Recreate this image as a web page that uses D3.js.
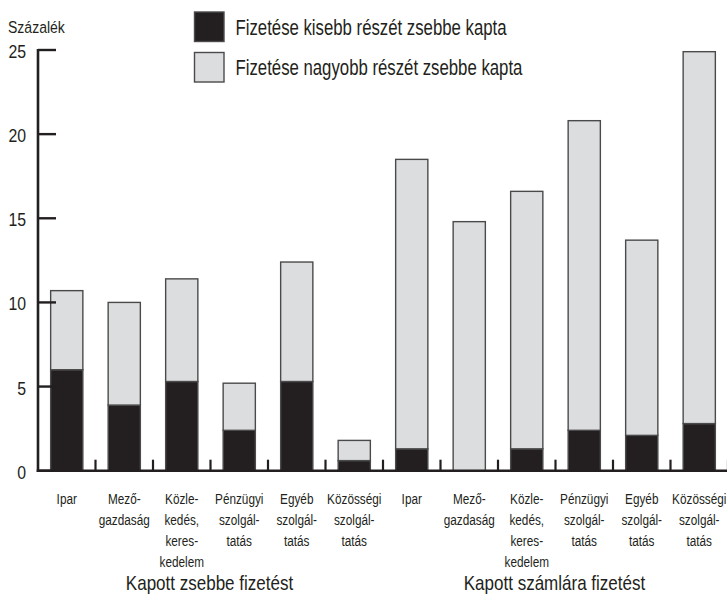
<!DOCTYPE html>
<html>
<head>
<meta charset="utf-8">
<script src="https://cdn.jsdelivr.net/npm/d3@7"></script>
<style>
  html, body { margin: 0; padding: 0; background: #fff; }
  svg { display: block; }
  text { font-family: 'Liberation Sans', Arial, sans-serif; fill: #231f20; }
</style>
</head>
<body>
<svg id="chart" width="727" height="594"></svg>
<script>
// ---- data ----
const categories = [
  ["Ipar"],
  ["Mező-", "gazdaság"],
  ["Közle-", "kedés,", "keres-", "kedelem"],
  ["Pénzügyi", "szolgál-", "tatás"],
  ["Egyéb", "szolgál-", "tatás"],
  ["Közösségi", "szolgál-", "tatás"],
  ["Ipar"],
  ["Mező-", "gazdaság"],
  ["Közle-", "kedés,", "keres-", "kedelem"],
  ["Pénzügyi", "szolgál-", "tatás"],
  ["Egyéb", "szolgál-", "tatás"],
  ["Közösségi", "szolgál-", "tatás"]
];
const groups = ["Kapott zsebbe fizetést", "Kapott számlára fizetést"];
const seriesNames = ["Fizetése kisebb részét zsebbe kapta", "Fizetése nagyobb részét zsebbe kapta"];
const kisebb  = [6.0, 3.9, 5.3, 2.4, 5.3, 0.6, 1.3, 0.0, 1.3, 2.4, 2.1, 2.8];
const nagyobb = [4.7, 6.1, 6.1, 2.8, 7.1, 1.2, 17.2, 14.8, 15.3, 18.4, 11.6, 22.1];
const yTicks = [0, 5, 10, 15, 20, 25];
const yTitle = "Százalék";

// ---- layout ----
const svg = d3.select("#chart");
const colors = ["#231f20", "#dcdddf"];
const strokeCol = "#4a4a4a";
const x0 = 38, x1 = 728, yBase = 470.7, yTop = 50;
const SX = 0.76; // horizontal condensing of the typeface

const idx = d3.range(categories.length);
const x = d3.scaleBand().domain(idx).range([x0, x1]).paddingInner(0.44).paddingOuter(0.22);
const y = d3.scaleLinear().domain([0, 25]).range([yBase, yTop]);

const table = idx.map(i => ({ i, k: kisebb[i], n: nagyobb[i] }));
const stack = d3.stack().keys(["k", "n"])(table);

// bars
svg.append("g").selectAll("g").data(stack).join("g")
  .attr("fill", (d, j) => colors[j])
  .selectAll("rect").data(d => d.filter(s => s[1] - s[0] > 0)).join("rect")
  .attr("x", d => x(d.data.i))
  .attr("width", x.bandwidth())
  .attr("y", d => y(d[1]))
  .attr("height", d => y(d[0]) - y(d[1]))
  .attr("stroke", strokeCol)
  .attr("stroke-width", 1.4);

// y axis
const axisCol = "#231f20";
svg.append("line").attr("x1", x0).attr("x2", x0).attr("y1", y(25) - 1).attr("y2", yBase + 1.2)
  .attr("stroke", axisCol).attr("stroke-width", 2.6);
const yt = svg.append("g");
yt.selectAll("line").data(yTicks).join("line")
  .attr("x1", x0).attr("x2", x0 + 18)
  .attr("y1", d => y(d)).attr("y2", d => y(d))
  .attr("stroke", axisCol).attr("stroke-width", 2.4);
yt.selectAll("text").data(yTicks).join("text")
  .attr("transform", d => `translate(26,${y(d) + 8}) scale(0.88,1)`)
  .attr("text-anchor", "end").attr("font-size", 18)
  .text(d => d);
svg.append("text").attr("transform", "translate(8,33) scale(0.85,1)")
  .attr("font-size", 16.5).text(yTitle);

// x axis
svg.append("line").attr("x1", x0 - 1.3).attr("x2", 727).attr("y1", yBase).attr("y2", yBase)
  .attr("stroke", axisCol).attr("stroke-width", 2.6);
const step = x.step();
svg.append("g").selectAll("line").data(d3.range(1, categories.length + 1)).join("line")
  .attr("x1", k => x0 + k * step).attr("x2", k => x0 + k * step)
  .attr("y1", yBase - 11).attr("y2", yBase)
  .attr("stroke", axisCol).attr("stroke-width", 2.2);

// category labels
const lab = svg.append("g").selectAll("text").data(idx).join("text")
  .attr("text-anchor", "middle").attr("font-size", 15.5)
  .attr("transform", i => `translate(${x(i) + x.bandwidth() / 2},503.5) scale(${SX},1)`);
lab.selectAll("tspan").data(i => categories[i]).join("tspan")
  .attr("x", 0)
  .attr("dy", (d, j) => j === 0 ? 0 : 21.2)
  .text(d => d);

// group labels
svg.append("g").selectAll("text").data(groups).join("text")
  .attr("text-anchor", "middle").attr("font-size", 20.5)
  .attr("transform", (d, g) => `translate(${x0 + (g + 0.5) * 6 * step - 1},590) scale(0.83,1)`)
  .text(d => d);

// legend
const leg = svg.append("g").selectAll("g").data(seriesNames).join("g")
  .attr("transform", (d, j) => `translate(194.5, ${12 + j * 40.5})`);
leg.append("rect").attr("width", 29.5).attr("height", 29.5)
  .attr("fill", (d, j) => colors[j]).attr("stroke", strokeCol).attr("stroke-width", 1.4);
leg.append("text").attr("transform", "translate(41,22.5) scale(0.78,1)")
  .attr("font-size", 21.5).text(d => d);
</script>
</body>
</html>
